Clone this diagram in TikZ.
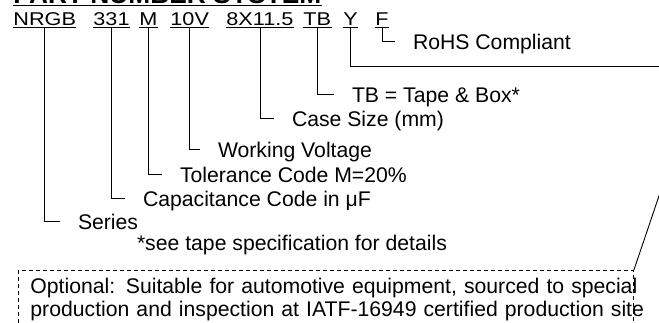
\documentclass[tikz,border=0pt]{standalone}
\usepackage{fontspec}
\setmainfont{Liberation Sans}
\newfontfamily\codefont[FakeStretch=1.17]{Liberation Sans}
\begin{document}
\begin{tikzpicture}[x=1pt, y=-1pt, line width=0.9pt,
      partcode/.style={inner sep=0pt, outer ysep=2.5pt, anchor=base west,
                       font=\codefont\fontsize{18.5}{20}\selectfont},
      desc/.style={inner sep=0pt, outer xsep=18pt, anchor=base west,
                   text height=16pt, text depth=0pt,
                   font=\fontsize{21.2}{24}\selectfont},
      optbox/.style={draw, dash pattern=on 4pt off 3pt, anchor=north west,
                     inner xsep=12pt, inner ysep=7.5pt, text width=591pt,
                     align=left, font=\fontsize{21.2}{23.5}\selectfont}]
      \useasboundingbox (0,0) rectangle (659,322);
      \clip (0,0) rectangle (659,322);

      \node[anchor=base west, inner sep=0pt, outer ysep=2pt,
            font=\fontsize{26.3}{30}\selectfont\bfseries] (title) at (13,3) {PART NUMBER SYSTEM};
      \draw (title.south west) -- (title.south east);

      \node[partcode] (nrgb) at (13,25)  {NRGB};
      \node[partcode] (cap)  at (93,25)  {331};
      \node[partcode] (tol)  at (139,25) {M};
      \node[partcode] (volt) at (170,25) {10V};
      \node[partcode] (size) at (226,25) {8X11.5};
      \node[partcode] (pack) at (303,25) {TB};
      \node[partcode] (auto) at (343,25) {Y};
      \node[partcode] (rohs) at (375,25) {F};
      \foreach \k in {nrgb, cap, tol, volt, size, pack, auto, rohs}
        \draw (\k.south west) -- (\k.south east);

      \node[desc] (d-rohs) at (395,49)  {RoHS Compliant};
      \node[desc] (d-pack) at (334,102) {TB = Tape \& Box*};
      \node[desc] (d-size) at (274,126) {Case Size (mm)};
      \node[desc] (d-volt) at (200,157) {Working Voltage};
      \node[desc] (d-tol)  at (162,182) {Tolerance Code M=20\%};
      \node[desc] (d-cap)  at (125,206) {Capacitance Code in μF};
      \node[desc] (d-nrgb) at (60,229)  {Series};
      \node[desc] (note)   at (119,250) {*see tape specification for details};

      \node[optbox] (opt) at (18,270)
        {\mbox{Optional: Suitable for automotive equipment, sourced to special}\\
         \mbox{production and inspection at IATF-16949 certified production site}};

      \coordinate (auto-end) at (660,66);
      \coordinate (opt-lead) at (661,190);

      \draw (rohs.south) |- (d-rohs.west);
      \draw (auto.south) |- (auto-end);
      \draw (pack.south) |- (d-pack.west);
      \draw (size.south) |- (d-size.west);
      \draw (volt.south) |- (d-volt.west);
      \draw (tol.south)  |- (d-tol.west);
      \draw (cap.south)  |- (d-cap.west);
      \draw (nrgb.south) |- (d-nrgb.west);
      \draw (opt-lead) -- (opt.north east);
    \end{tikzpicture}
\end{document}
